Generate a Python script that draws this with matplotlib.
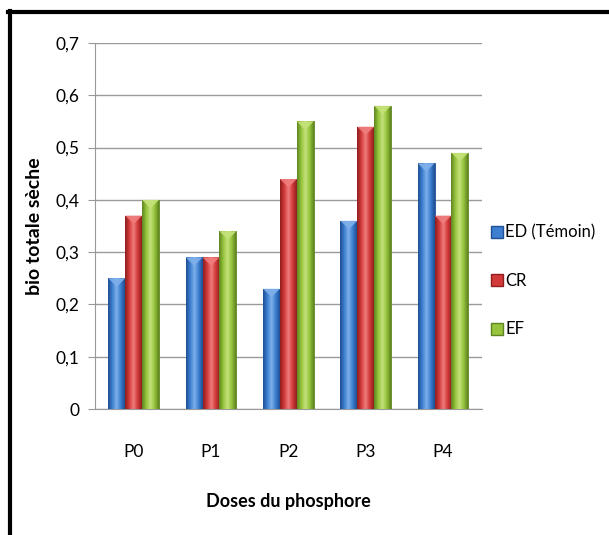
import numpy as np
import matplotlib.pyplot as plt
from matplotlib.colors import LinearSegmentedColormap
from matplotlib.lines import Line2D
from matplotlib.patches import Polygon

plt.rcParams['font.family'] = ['Lato', 'DejaVu Sans']

doses = ['P0', 'P1', 'P2', 'P3', 'P4']
ed = [0.25, 0.29, 0.23, 0.36, 0.47]
cr = [0.37, 0.29, 0.44, 0.54, 0.37]
ef = [0.40, 0.34, 0.55, 0.58, 0.49]
series_names = ['ED (Témoin)', 'CR', 'EF']
yticks = [0, 0.1, 0.2, 0.3, 0.4, 0.5, 0.6, 0.7]

# base / light / dark shades for the shaded bars
shades = [
    ('#3d7fd0', '#7fb0ea', '#1f4f94'),
    ('#d23a3a', '#f07d7d', '#8f1f1f'),
    ('#96c43c', '#c4e27a', '#5e8521'),
]

fig = plt.figure(figsize=(6.09, 5.35), dpi=100)
ax = fig.add_axes([0.156, 0.2355, 0.635, 0.684])

x = np.arange(len(doses))
w = 0.218
for i, vals in enumerate([ed, cr, ef]):
    base, light, dark = shades[i]
    cmap = LinearSegmentedColormap.from_list('s%d' % i, [dark, base, light, base, dark])
    bars = ax.bar(x + (i - 1) * w, vals, w, color=base, edgecolor=dark,
                  linewidth=0.6, zorder=3)
    for b in bars:
        x0, h, bw = b.get_x(), b.get_height(), b.get_width()
        grad = np.linspace(0, 1, 64).reshape(1, -1)
        im = ax.imshow(grad, cmap=cmap, aspect='auto', extent=(x0, x0 + bw, 0, h),
                       zorder=3.5)
        im.set_clip_path(b)
        # bevel on top of the bar
        d = 0.016
        ax.add_patch(Polygon([(x0, h), (x0 + bw, h), (x0 + bw * 0.5, h - d)],
                             closed=True, facecolor=light, edgecolor='none',
                             alpha=0.9, zorder=4))

ax.set_xlim(-0.5, 4.5)
ax.set_ylim(0, 0.7)
ax.set_yticks(yticks)
ax.set_yticklabels([('%g' % t).replace('.', ',') for t in yticks], fontsize=12.5)
ax.set_xticks(x)
ax.set_xticklabels(doses, fontsize=12.5)
ax.tick_params(axis='x', length=0, pad=25)
ax.tick_params(axis='y', length=5, color='#999999', pad=6)
ax.yaxis.grid(True, color='#9a9a9a', linewidth=1)
ax.set_axisbelow(True)
for s in ['top', 'right']:
    ax.spines[s].set_visible(False)
ax.spines['left'].set_color('#999999')
ax.spines['bottom'].set_color('#999999')

ax.set_ylabel('bio totale sèche', fontsize=14, fontweight='bold', labelpad=9)
ax.set_xlabel('Doses du phosphore', fontsize=13, fontweight='bold', labelpad=24)

handles = [Line2D([], [], marker='s', linestyle='none', markersize=8,
                  markerfacecolor=shades[i][0], markeredgecolor=shades[i][2])
           for i in range(3)]
fig.legend(handles, series_names, loc='center left', bbox_to_anchor=(0.805, 0.475),
           frameon=False, fontsize=12, handletextpad=0.1, labelspacing=1.95,
           handlelength=0.8, borderaxespad=0, borderpad=0)

# frame lines along the top and left of the figure
fig.add_artist(Line2D([8 / 609, 1], [1 - 12 / 535] * 2, color='black', linewidth=3,
                      transform=fig.transFigure))
fig.add_artist(Line2D([9.5 / 609] * 2, [0, 1 - 10.5 / 535], color='black', linewidth=3,
                      transform=fig.transFigure))

fig.savefig('out.png', dpi=100)
